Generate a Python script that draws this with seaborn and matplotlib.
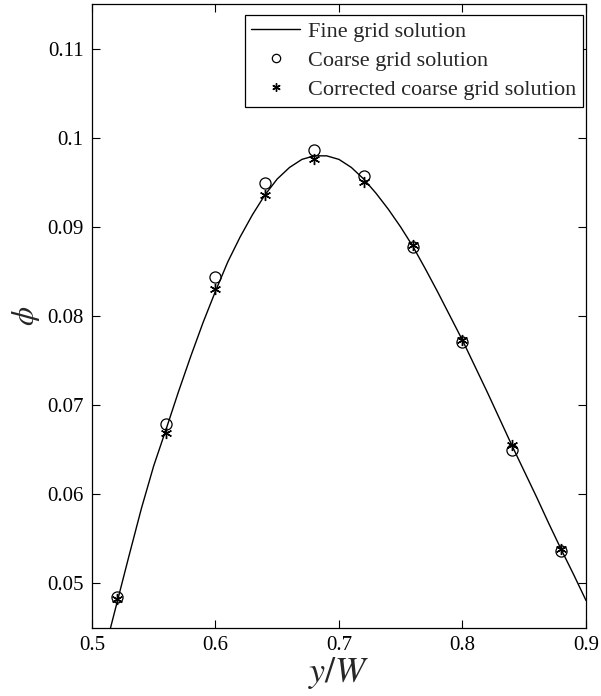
import numpy as np
import pandas as pd
import matplotlib
matplotlib.use("Agg")
import matplotlib.pyplot as plt
import seaborn as sns

# Fine grid profile
fine_x = [0.515, 0.52, 0.53, 0.54, 0.55, 0.56, 0.57, 0.58, 0.59, 0.60,
          0.61, 0.62, 0.63, 0.64, 0.65, 0.66, 0.67, 0.68, 0.69, 0.70,
          0.71, 0.72, 0.73, 0.74, 0.75, 0.76, 0.77, 0.78, 0.79, 0.80,
          0.81, 0.82, 0.83, 0.84, 0.85, 0.86, 0.87, 0.88, 0.89, 0.90]
fine_y = [0.0450, 0.0477, 0.0531, 0.0584, 0.0632, 0.0673, 0.0715, 0.0755, 0.0793, 0.0828,
          0.0861, 0.0889, 0.0914, 0.0936, 0.0954, 0.0967, 0.0976, 0.0980, 0.0980, 0.0976,
          0.0967, 0.0954, 0.0938, 0.0920, 0.0900, 0.0878, 0.0853, 0.0827, 0.0800, 0.0773,
          0.0744, 0.0715, 0.0685, 0.0655, 0.0626, 0.0597, 0.0567, 0.0538, 0.0510, 0.0481]

# Coarse grid samples
coarse_x = [0.52, 0.56, 0.60, 0.64, 0.68, 0.72, 0.76, 0.80, 0.84, 0.88]
coarse_y = [0.0485, 0.0679, 0.0844, 0.0950, 0.0986, 0.0957, 0.0878, 0.0771, 0.0650, 0.0536]
corrected_y = [0.0483, 0.0669, 0.0830, 0.0936, 0.0977, 0.0951, 0.0880, 0.0773, 0.0655, 0.0539]

x_ticks = [0.5, 0.6, 0.7, 0.8, 0.9]
y_ticks = [0.05, 0.06, 0.07, 0.08, 0.09, 0.10, 0.11]
y_tick_labels = ["0.05", "0.06", "0.07", "0.08", "0.09", "0.1", "0.11"]

sns.set_style("ticks")
plt.rcParams["font.family"] = ["Liberation Serif", "DejaVu Serif"]
plt.rcParams["mathtext.fontset"] = "stix"
plt.rcParams["xtick.direction"] = "in"
plt.rcParams["ytick.direction"] = "in"

fig = plt.figure(figsize=(6.01, 6.96), dpi=100)
ax = fig.add_axes([0.153, 0.0977, 0.822, 0.896])

fine = pd.DataFrame({"x": fine_x, "y": fine_y})
coarse = pd.DataFrame({"x": coarse_x, "y": coarse_y})
corrected = pd.DataFrame({"x": coarse_x, "y": corrected_y})

sns.lineplot(data=fine, x="x", y="y", ax=ax, color="black", linewidth=1.0,
             label="Fine grid solution", sort=False)
ax.plot(coarse["x"], coarse["y"], linestyle="none", marker="o", markersize=8,
        markerfacecolor="none", markeredgecolor="black", markeredgewidth=0.9,
        label="Coarse grid solution")
ax.plot(corrected["x"], corrected["y"], linestyle="none", marker=(6, 2, 0), markersize=8,
        color="black", markeredgewidth=1.0, label="Corrected coarse grid solution")

ax.set_xlim(0.5, 0.9)
ax.set_ylim(0.045, 0.115)
ax.set_xticks(x_ticks)
ax.set_xticklabels([f"{v:g}" for v in x_ticks])
ax.set_yticks(y_ticks)
ax.set_yticklabels(y_tick_labels)
ax.tick_params(axis="both", which="both", top=True, right=True, length=6,
               width=0.8, labelsize=15, colors="black", pad=6)
for s in ax.spines.values():
    s.set_visible(True)
    s.set_linewidth(0.9)
    s.set_color("black")

ax.set_xlabel(r"$y/W$", fontsize=26, labelpad=0)
ax.set_ylabel(r"$\phi$", fontsize=22, labelpad=4)

leg = ax.legend(loc="upper right", bbox_to_anchor=(583 / 601, 1 - 15 / 696),
                bbox_transform=fig.transFigure, borderaxespad=0,
                fontsize=16, frameon=True, fancybox=False, markerscale=0.75,
                edgecolor="black", framealpha=1, borderpad=0.3, handlelength=2.2,
                handletextpad=0.36, labelspacing=0.38)
leg.get_frame().set_linewidth(0.9)

fig.savefig("out.png", dpi=100)
